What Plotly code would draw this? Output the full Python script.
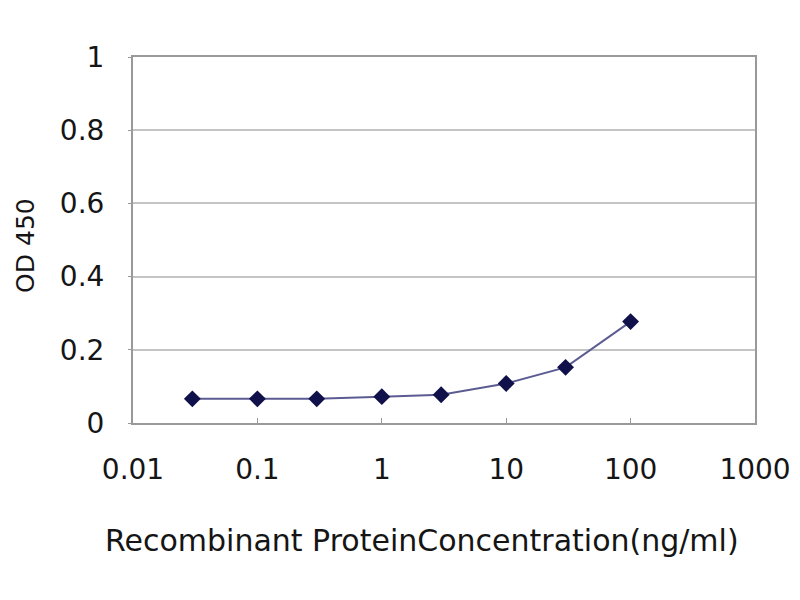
import plotly.graph_objects as go

# ELISA standard curve
conc = [0.03, 0.1, 0.3, 1, 3, 10, 30, 100]
od450 = [0.066, 0.066, 0.066, 0.072, 0.077, 0.108, 0.152, 0.277]

x_ticks = [0.01, 0.1, 1, 10, 100, 1000]
x_labels = ['0.01', '0.1', '1', '10', '100', '1000']
y_ticks = [0, 0.2, 0.4, 0.6, 0.8, 1]
y_labels = ['0', '0.2', '0.4', '0.6', '0.8', '1']

font_face = 'DejaVu Sans'

fig = go.Figure(data=go.Scatter(
    x=conc,
    y=od450,
    mode='lines+markers',
    line=dict(color='#5c5c92', width=2),
    marker=dict(symbol='diamond', size=13, color='#10104a'),
    showlegend=False
))

fig.update_layout(
    width=784,
    height=584,
    margin=dict(l=125, r=37, t=49, b=169),
    paper_bgcolor='white',
    plot_bgcolor='white',
    font=dict(family=font_face, color='#151515'),
    xaxis=dict(
        type='log',
        range=[-2, 3],
        tickvals=x_ticks,
        ticktext=x_labels,
        tickfont=dict(size=28),
        ticks='inside',
        ticklen=5,
        tickcolor='#999999',
        ticklabelstandoff=20,
        showgrid=False,
        showline=True,
        linecolor='#999999',
        linewidth=2,
        mirror=True,
        automargin=False,
    ),
    yaxis=dict(
        range=[0, 1],
        tickvals=y_ticks,
        ticktext=y_labels,
        tickfont=dict(size=28),
        ticks='outside',
        ticklen=3,
        tickcolor='#999999',
        ticklabelstandoff=18,
        showgrid=True,
        gridcolor='#c4c4c4',
        gridwidth=2,
        zeroline=False,
        showline=True,
        linecolor='#999999',
        linewidth=2,
        mirror=True,
        automargin=False,
    ),
    annotations=[
        dict(
            text='Recombinant ProteinConcentration(ng/ml)',
            xref='paper', yref='paper',
            x=0.465, y=-0.32,
            xanchor='center', yanchor='middle',
            showarrow=False,
            font=dict(size=30),
        ),
        dict(
            text='OD 450',
            xref='paper', yref='paper',
            x=-0.174, y=0.486,
            xanchor='center', yanchor='middle',
            textangle=-90,
            showarrow=False,
            font=dict(size=25),
        ),
    ],
)

fig.write_html("out.html")
